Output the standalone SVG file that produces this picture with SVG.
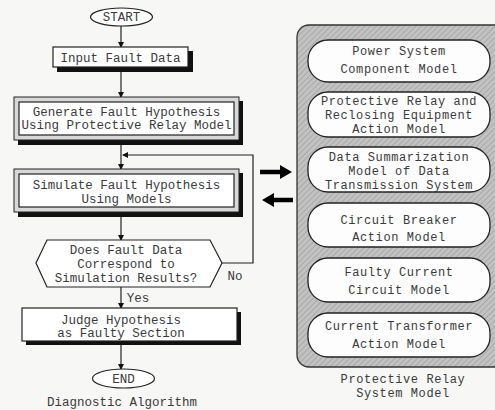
<svg xmlns="http://www.w3.org/2000/svg" width="495" height="410" viewBox="0 0 495 410">
<style>
text{font-family:"Liberation Mono","DejaVu Sans Mono",monospace;fill:#3a3a3a;text-anchor:middle}
.t{font-size:12.5px}
.p{font-size:12px;letter-spacing:0.6px}
.ln{fill:none;stroke:#222;stroke-width:1.2}
.box{fill:#fff;stroke:#222;stroke-width:1.2}
.sh{fill:#111}
.band{fill:#d8d8d8;stroke:#222;stroke-width:1}
.pill{fill:#fdfdfd;stroke:#222;stroke-width:1.3}
.big{fill:none;stroke:#000;stroke-width:4.5}
</style>
<defs>
<marker id="ah" markerWidth="6" markerHeight="6" refX="5" refY="3" orient="auto" markerUnits="userSpaceOnUse">
<path d="M0,0 L6,3 L0,6 Z" fill="#111"/>
</marker>
<marker id="bh" markerWidth="12" markerHeight="14" refX="4" refY="7" orient="auto" markerUnits="userSpaceOnUse">
<path d="M0,0 L12,7 L0,14 Z" fill="#000"/>
</marker>
<pattern id="hatch" width="4" height="4" patternUnits="userSpaceOnUse" patternTransform="rotate(45)">
<rect width="4" height="4" fill="#c2c2c2"/>
<line x1="0" y1="0" x2="0" y2="4" stroke="#949494" stroke-width="1.1"/>
</pattern>
</defs>
<rect width="495" height="410" fill="#f7f7f5"/>

<g id="connectors">
<line class="ln" x1="121" y1="26" x2="121" y2="47" marker-end="url(#ah)"/>
<line class="ln" x1="121" y1="72" x2="121" y2="97" marker-end="url(#ah)"/>
<line class="ln" x1="121" y1="145" x2="121" y2="169" marker-end="url(#ah)"/>
<polyline class="ln" points="222,263 253,263 253,155 123,155" marker-end="url(#ah)"/>
<line class="ln" x1="121" y1="217" x2="121" y2="240" marker-end="url(#ah)"/>
<line class="ln" x1="121" y1="287" x2="121" y2="308" marker-end="url(#ah)"/>
<line class="ln" x1="121" y1="345" x2="121" y2="369" marker-end="url(#ah)"/>
<line class="big" x1="260" y1="172" x2="284" y2="172" marker-end="url(#bh)"/>
<line class="big" x1="293" y1="200" x2="270" y2="200" marker-end="url(#bh)"/>
<text class="t" x="138" y="302">Yes</text>
<text class="t" x="235" y="280">No</text>
</g>

<g id="start">
<ellipse cx="121.5" cy="17" rx="31" ry="9" class="box"/>
<text class="t" x="121.5" y="21">START</text>
</g>

<g id="input">
<rect x="57" y="51" width="136" height="21" class="sh"/>
<rect x="53" y="47" width="135" height="20" class="box"/>
<text class="t" x="120.5" y="62">Input Fault Data</text>
</g>

<g id="generate">
<rect x="18" y="101" width="225" height="44" class="sh"/>
<rect x="14" y="97" width="225" height="43" class="band"/>
<rect x="19" y="102" width="215" height="33" class="box"/>
<text class="t" x="126.5" y="116">Generate Fault Hypothesis</text>
<text class="t" x="126.5" y="129">Using Protective Relay Model</text>
</g>

<g id="simulate">
<rect x="18" y="173" width="225" height="44" class="sh"/>
<rect x="14" y="169" width="225" height="43" class="band"/>
<rect x="19" y="174" width="215" height="33" class="box"/>
<text class="t" x="126.5" y="189">Simulate Fault Hypothesis</text>
<text class="t" x="126.5" y="203">Using Models</text>
</g>

<g id="decision">
<polygon points="47,240 210,240 222,263 210,287 47,287 36,263" class="box"/>
<text class="t" x="126" y="254">Does Fault Data</text>
<text class="t" x="126" y="268">Correspond to</text>
<text class="t" x="126" y="282">Simulation Results?</text>
</g>

<g id="judge">
<rect x="26" y="312" width="215" height="33" class="sh"/>
<rect x="22" y="308" width="215" height="33" class="box"/>
<text class="t" x="121" y="324">Judge Hypothesis</text>
<text class="t" x="121" y="337">as Faulty Section</text>
</g>

<g id="end">
<ellipse cx="123.5" cy="378.5" rx="31" ry="9.5" class="box"/>
<text class="t" x="123.5" y="383">END</text>
</g>

<g id="caption-left">
<text class="t" x="122" y="406">Diagnostic Algorithm</text>
</g>

<g id="panel">
<rect x="297" y="25" width="210" height="342" rx="12" fill="url(#hatch)" stroke="#333" stroke-width="1.3"/>
</g>

<g id="pill1">
<rect x="308" y="40" width="182" height="42" rx="20" class="pill"/>
<text class="p" x="399" y="55">Power System</text>
<text class="p" x="399" y="73">Component Model</text>
</g>
<g id="pill2">
<rect x="308" y="92" width="182" height="45" rx="20" class="pill"/>
<text class="p" x="399" y="105">Protective Relay and</text>
<text class="p" x="399" y="119">Reclosing Equipment</text>
<text class="p" x="399" y="133">Action Model</text>
</g>
<g id="pill3">
<rect x="308" y="147" width="182" height="45" rx="20" class="pill"/>
<text class="p" x="399" y="161">Data Summarization</text>
<text class="p" x="399" y="175">Model of Data</text>
<text class="p" x="399" y="189">Transmission System</text>
</g>
<g id="pill4">
<rect x="308" y="203" width="182" height="44" rx="20" class="pill"/>
<text class="p" x="399" y="224">Circuit Breaker</text>
<text class="p" x="399" y="241">Action Model</text>
</g>
<g id="pill5">
<rect x="308" y="258" width="182" height="44" rx="20" class="pill"/>
<text class="p" x="399" y="276">Faulty Current</text>
<text class="p" x="399" y="294">Circuit Model</text>
</g>
<g id="pill6">
<rect x="308" y="313" width="182" height="44" rx="20" class="pill"/>
<text class="p" x="399" y="330">Current Transformer</text>
<text class="p" x="399" y="348">Action Model</text>
</g>

<g id="caption-right">
<text class="p" x="403" y="383">Protective Relay</text>
<text class="p" x="403" y="397">System Model</text>
</g>
</svg>
